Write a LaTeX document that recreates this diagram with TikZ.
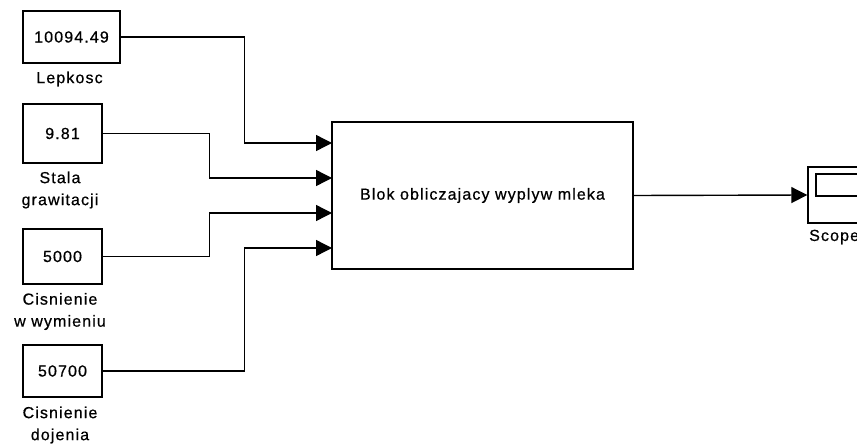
\documentclass[tikz,border=0pt]{standalone}
\usepackage{fontspec}
\setmainfont{Liberation Sans}[LetterSpace=7, FakeBold=0.6]
\usetikzlibrary{arrows.meta}
\tikzset{
  blk/.style={draw, line width=1.4pt, inner sep=0pt, font=\fontsize{16}{22}\selectfont},
  lbl/.style={inner sep=0pt, align=center, font=\fontsize{16}{22}\selectfont},
  wire/.style={line width=1.4pt},
  sig/.style={wire, -{Triangle[length=16pt,width=16pt]}},
}
\begin{document}
\begin{tikzpicture}[x=1pt,y=-1pt]
\useasboundingbox (0,0) rectangle (857,444);
\clip (0,0) rectangle (857,444);

% constant sources
\node[blk, minimum width=97pt, minimum height=52pt] (c1) at (71.5,37) {10094.49};
\node[blk, minimum width=79pt, minimum height=59pt] (c2) at (62.5,133.5) {9.81};
\node[blk, minimum width=79pt, minimum height=55pt] (c3) at (62.5,256.5) {5000};
\node[blk, minimum width=79pt, minimum height=52pt] (c4) at (62.5,371) {50700};

\node[lbl] (l1) at (69.5,79) {Lepkosc};
\node[lbl] (l2) at (60,190) {Stala\\grawitacji};
\node[lbl] (l3) at (60,311.5) {Cisnienie\\w wymieniu};
\node[lbl] (l4) at (60,425) {Cisnienie\\dojenia};

% computing subsystem
\node[blk, minimum width=301pt, minimum height=147pt] (main) at (482.5,195.5) {Blok obliczajacy wyplyw mleka};
\coordinate (p1) at (332,143);
\coordinate (p2) at (332,178);
\coordinate (p3) at (332,213);
\coordinate (p4) at (332,248);

% scope
\node[blk, minimum width=58pt, minimum height=56pt] (scope) at (837,195) {};
\node[draw, line width=1.4pt, inner sep=0pt, minimum width=42pt, minimum height=22pt] (screen) at (837,185) {};
\node[lbl, anchor=west] (ls) at (809,237) {Scope};

% signals
\draw[sig] (c1.east) -- ++(124,0) |- (p1);
\draw[sig] (c2.east) -- ++(107,0) |- (p2);
\draw[sig] (c3.east) -- ++(107,0) |- (p3);
\draw[sig] (c4.east) -- ++(142,0) |- (p4);
\draw[sig] (main.east) -- (scope.west);
\end{tikzpicture}
\end{document}
